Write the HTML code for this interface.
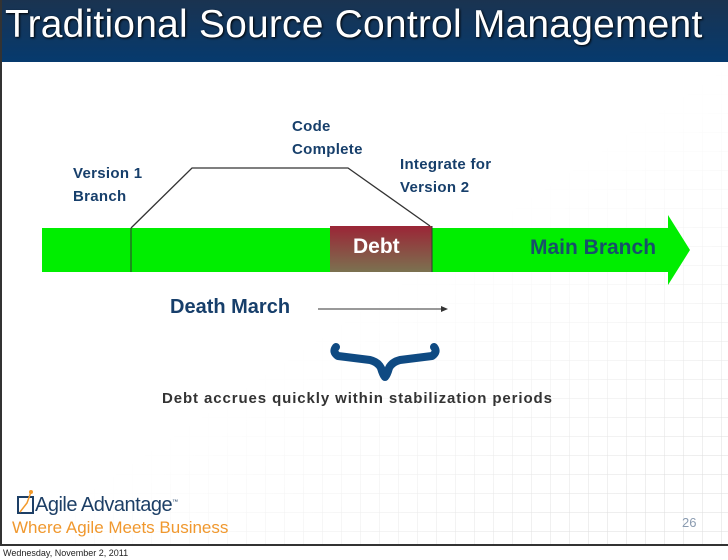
<!DOCTYPE html>
<html><head><style>
body{margin:0;width:728px;height:560px;background:#fff;position:relative;overflow:hidden;font-family:"Liberation Sans",sans-serif}
.t{position:absolute;font-weight:bold;color:#173f6b;font-size:15px;line-height:23px;letter-spacing:0.3px}
</style></head><body>
<div style="position:absolute;left:0;top:0;width:728px;height:62px;background:linear-gradient(#1a3350,#063a6e);"></div>
<div style="position:absolute;left:5px;top:3px;color:#fff;font-size:39px;letter-spacing:0.2px;text-shadow:1px 1px 2px #000;white-space:nowrap">Traditional Source Control Management</div>
<svg width="728" height="560" style="position:absolute;left:0;top:0">
<defs>
<pattern id="g" width="19" height="19" patternUnits="userSpaceOnUse"><path d="M19 0V19M0 19H19" stroke="#ddd" stroke-width="1" fill="none"/></pattern>
<linearGradient id="fade" x1="0" y1="0" x2="1" y2="1"><stop offset="0.5" stop-color="#fff" stop-opacity="1"/><stop offset="0.9" stop-color="#fff" stop-opacity="0"/></linearGradient>
<linearGradient id="d" x1="0" y1="0" x2="0" y2="1"><stop offset="0" stop-color="#9b2536"/><stop offset="1" stop-color="#7b7250"/></linearGradient>
</defs>
<rect x="2" y="62" width="726" height="483" fill="url(#g)"/>
<rect x="2" y="62" width="726" height="483" fill="url(#fade)"/>
<line x1="1" y1="0" x2="1" y2="546" stroke="#333" stroke-width="2"/>
<line x1="0" y1="545" x2="728" y2="545" stroke="#333" stroke-width="2"/>
<polygon points="42,228 668,228 668,215 690,250 668,285 668,272 42,272" fill="#00ee00"/>
<rect x="330" y="226" width="102" height="46" fill="url(#d)"/>
<line x1="131" y1="228" x2="131" y2="272" stroke="#333"/>
<line x1="432" y1="226" x2="432" y2="272" stroke="#333"/>
<polyline points="131,228 192,168 348,168 430,226" fill="none" stroke="#333" stroke-width="1.3"/>
<line x1="318" y1="309" x2="446" y2="309" stroke="#333"/>
<polygon points="448,309 441,306 441,312" fill="#333"/>
<path d="M336 347 Q332 352 338 356 L370 360 Q378 362 381 368 Q383 375 385 377 Q387 375 389 368 Q392 362 400 360 L432 356 Q438 352 434 347" fill="none" stroke="#0f4a82" stroke-width="8" stroke-linecap="round" stroke-linejoin="round"/>
<rect x="18" y="497" width="15" height="16" fill="none" stroke="#1d3f66" stroke-width="2"/>
<path d="M20 512 L27 503 L31 492" stroke="#f39a2c" stroke-width="1.5" fill="none"/>
<circle cx="31" cy="492" r="2" fill="#f39a2c"/>
</svg>
<div class="t" style="left:292px;top:115px">Code<br>Complete</div>
<div class="t" style="left:73px;top:162px">Version 1<br>Branch</div>
<div class="t" style="left:400px;top:153px">Integrate for<br>Version 2</div>
<div style="position:absolute;left:353px;top:235px;color:#fff;font-weight:bold;font-size:21px">Debt</div>
<div style="position:absolute;left:530px;top:236px;color:#17506a;font-weight:bold;font-size:21px">Main Branch</div>
<div style="position:absolute;left:170px;top:296px;color:#173f6b;font-weight:bold;font-size:20px">Death March</div>
<div style="position:absolute;left:162px;top:390px;color:#333;font-weight:bold;font-size:15px;letter-spacing:0.9px">Debt accrues quickly within stabilization periods</div>
<div style="position:absolute;left:35px;top:494px;color:#1d3f66;font-size:20px;letter-spacing:-0.5px">Agile Advantage<sup style="font-size:6px">™</sup></div>
<div style="position:absolute;left:12px;top:518px;color:#f0982e;font-size:17px">Where Agile Meets Business</div>
<div style="position:absolute;left:682px;top:515px;color:#8a9bb0;font-size:13px">26</div>
<div style="position:absolute;left:3px;top:548px;color:#222;font-size:9px">Wednesday, November 2, 2011</div>
</body></html>
